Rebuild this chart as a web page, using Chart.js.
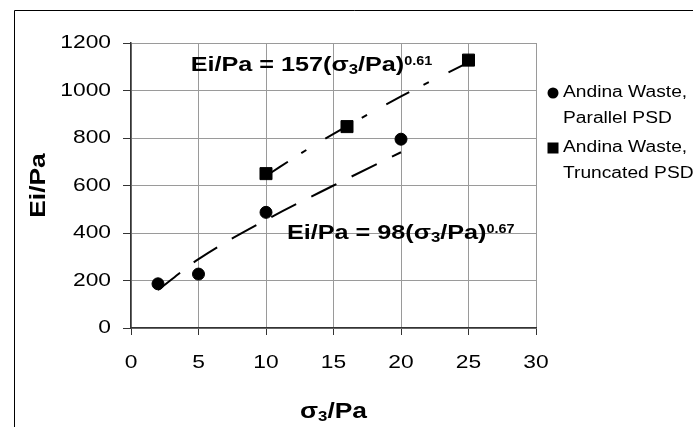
<!DOCTYPE html>
<html>
<head>
<meta charset="utf-8">
<script src="https://cdn.jsdelivr.net/npm/chart.js@4.4.1/dist/chart.umd.min.js"></script>
<style>
  html, body { margin: 0; padding: 0; background: #fff; }
  #wrap { width: 693px; height: 427px; }
</style>
</head>
<body>
<div id="wrap"><canvas id="chart" width="693" height="427"></canvas></div>
<script>
// measured points
const sigmaParallel = [2, 5, 10, 20];
const eiParallel = [186, 227, 487, 795];
const sigmaTruncated = [10, 16, 25];
const eiTruncated = [650, 848, 1128];

// fitted power curves
const fitParallelX = [2, 5, 10, 15, 20];
const fitParallelY = [160, 290, 455, 600, 740];
const fitTruncatedX = [10, 13, 16, 20, 25];
const fitTruncatedY = [640, 750, 850, 975, 1118];

const xTicks = [0, 5, 10, 15, 20, 25, 30];
const yTicks = [0, 200, 400, 600, 800, 1000, 1200];

const legendLines = [
  ["Andina Waste,", "Parallel PSD"],
  ["Andina Waste,", "Truncated PSD"]
];
const eqTruncated = ["Ei/Pa = 157(σ", "3", "/Pa)", "0.61"];
const eqParallel = ["Ei/Pa = 98(σ", "3", "/Pa)", "0.67"];

const FONT = '"Liberation Sans", Arial, sans-serif';
const SX = 1.2; // the source text is drawn wide

const pts = (xs, ys) => xs.map((v, i) => ({ x: v, y: ys[i] }));

function wideText(ctx, str, x, y, align) {
  const w = ctx.measureText(str).width * SX;
  let left = x;
  if (align === "center") left = x - w / 2;
  if (align === "right") left = x - w;
  ctx.save();
  ctx.translate(left, y);
  ctx.scale(SX, 1);
  ctx.textAlign = "left";
  ctx.fillText(str, 0, 0);
  ctx.restore();
  return w;
}

// main text, subscript, main text, superscript
function richText(ctx, parts, x, y, big) {
  const spec = [
    { size: big, dy: 0 },
    { size: 14, dy: 3 },
    { size: big, dy: 0 },
    { size: 12, dy: -6 }
  ];
  let cx = x;
  parts.forEach((p, i) => {
    ctx.font = "bold " + spec[i].size + "px " + FONT;
    cx += wideText(ctx, p, cx, y + spec[i].dy, "left");
  });
}

const extras = {
  id: "extras",
  afterDraw(chart) {
    const ctx = chart.ctx;
    const xs = chart.scales.x;
    const ys = chart.scales.y;
    const area = chart.chartArea;
    ctx.save();

    // frame around the chart object
    ctx.strokeStyle = "#000";
    ctx.lineWidth = 1;
    ctx.beginPath();
    ctx.moveTo(14.5, chart.height + 2);
    ctx.lineTo(14.5, 10.5);
    ctx.lineTo(chart.width + 2, 10.5);
    ctx.stroke();

    ctx.fillStyle = "#000";
    ctx.textBaseline = "middle";
    ctx.font = "19px " + FONT;
    yTicks.forEach(v => wideText(ctx, String(v), area.left - 20, ys.getPixelForValue(v), "right"));
    xTicks.forEach(v => wideText(ctx, String(v), xs.getPixelForValue(v), area.bottom + 35, "center"));

    // axis titles
    ctx.textBaseline = "alphabetic";
    ctx.save();
    ctx.translate(45, (area.top + area.bottom) / 2);
    ctx.rotate(-Math.PI / 2);
    ctx.font = "bold 22px " + FONT;
    wideText(ctx, "Ei/Pa", 0, 0, "center");
    ctx.restore();

    ctx.font = "bold 22px " + FONT;
    const w1 = ctx.measureText("σ").width * SX;
    const w3 = ctx.measureText("/Pa").width * SX;
    ctx.font = "bold 14px " + FONT;
    const w2 = ctx.measureText("3").width * SX;
    let tx = (area.left + area.right) / 2 - (w1 + w2 + w3) / 2;
    const ty = area.bottom + 90;
    ctx.font = "bold 22px " + FONT;
    tx += wideText(ctx, "σ", tx, ty, "left");
    ctx.font = "bold 14px " + FONT;
    tx += wideText(ctx, "3", tx, ty + 3, "left");
    ctx.font = "bold 22px " + FONT;
    wideText(ctx, "/Pa", tx, ty, "left");

    // fit equations
    richText(ctx, eqTruncated, xs.getPixelForValue(4.42), ys.getPixelForValue(1081), 21);
    richText(ctx, eqParallel, xs.getPixelForValue(11.55), ys.getPixelForValue(376), 21);

    // legend
    const lx = area.right + 17;
    const rows = [area.top + 50, area.top + 105];
    rows.forEach((ry, i) => {
      ctx.beginPath();
      if (i === 0) {
        ctx.arc(lx, ry, 5.5, 0, Math.PI * 2);
      } else {
        ctx.rect(lx - 5.5, ry - 5.5, 11, 11);
      }
      ctx.fill();
      ctx.textBaseline = "middle";
      ctx.font = "16px " + FONT;
      wideText(ctx, legendLines[i][0], lx + 10, ry, "left");
      wideText(ctx, legendLines[i][1], lx + 10, ry + 26, "left");
    });
    ctx.restore();
  }
};

new Chart(document.getElementById("chart"), {
  type: "scatter",
  data: {
    datasets: [
      {
        label: "fit parallel",
        data: pts(fitParallelX, fitParallelY),
        showLine: true,
        borderColor: "#000",
        borderWidth: 2,
        borderDash: [28, 17],
        pointRadius: 0,
        cubicInterpolationMode: "monotone"
      },
      {
        label: "fit truncated",
        data: pts(fitTruncatedX, fitTruncatedY),
        showLine: true,
        borderColor: "#000",
        borderWidth: 2,
        borderDash: [26, 16, 6, 22],
        pointRadius: 0,
        cubicInterpolationMode: "monotone"
      },
      {
        label: "Andina Waste, Parallel PSD",
        data: pts(sigmaParallel, eiParallel),
        pointStyle: "circle",
        pointRadius: 6,
        backgroundColor: "#000",
        borderColor: "#000"
      },
      {
        label: "Andina Waste, Truncated PSD",
        data: pts(sigmaTruncated, eiTruncated),
        pointStyle: "rect",
        pointRadius: 8.5,
        backgroundColor: "#000",
        borderColor: "#000"
      }
    ]
  },
  options: {
    responsive: false,
    devicePixelRatio: 1,
    animation: false,
    layout: {
      padding: { left: 123, top: 43, right: 157, bottom: 92 }
    },
    plugins: {
      legend: { display: false },
      tooltip: { enabled: false }
    },
    scales: {
      x: {
        type: "linear",
        min: 0,
        max: 30,
        ticks: { display: false, stepSize: 5 },
        grid: { color: "#9a9a9a", tickColor: "#333", tickLength: 7 },
        border: { color: "#333", width: 1.5 },
        afterFit(scale) { scale.height = 7; }
      },
      y: {
        min: 0,
        max: 1200,
        ticks: { display: false, stepSize: 200 },
        grid: { color: "#9a9a9a", tickColor: "#333", tickLength: 8 },
        border: { color: "#333", width: 1.5 },
        afterFit(scale) { scale.width = 8; }
      }
    }
  },
  plugins: [extras]
});
</script>
</body>
</html>
